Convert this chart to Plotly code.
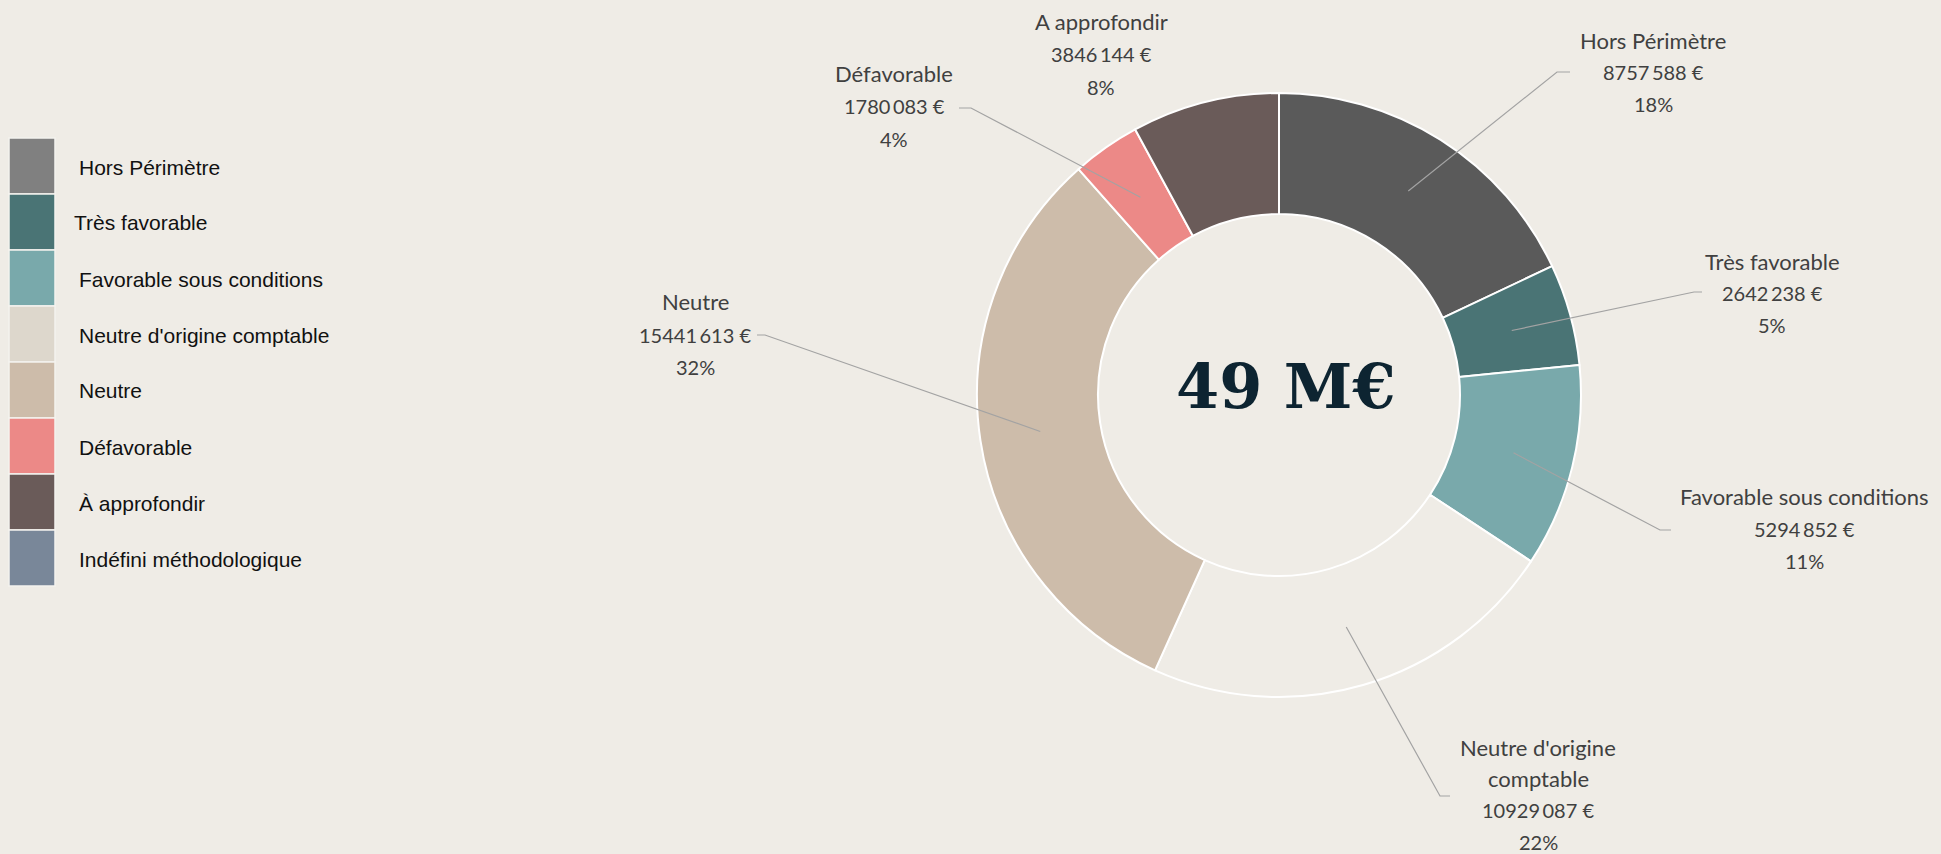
import math
import plotly.graph_objects as go

# ---------------- data ----------------
slice_labels = ["Hors Périmètre", "Très favorable", "Favorable sous conditions",
                "Neutre d'origine comptable", "Neutre", "Défavorable", "A approfondir"]
slice_values = [8757588, 2642238, 5294852, 10929087, 15441613, 1780083, 3846144]
slice_colors = ["#5A5A5A", "#4A7475", "#79A9AB", "#EFECE6", "#CDBCAA", "#EC8987", "#6A5B59"]

legend_labels = ["Hors Périmètre", "Très favorable", "Favorable sous conditions",
                 "Neutre d'origine comptable", "Neutre", "Défavorable", "À approfondir",
                 "Indéfini méthodologique"]
legend_colors = ["#808080", "#4A7475", "#79A9AB", "#DDD7CC", "#CDBCAA", "#EC8987",
                 "#6A5B59", "#798799"]

center_text = "49 M€"

# ---------------- layout helpers (pixels) ----------------
W, H = 1941, 854
BG = "#EFECE6"
CX, CY, R_OUT, R_IN = 1279, 395, 302, 181


def px(x):
    return x / W


def py(y):
    return 1 - y / H


total = sum(slice_values)


def fmt_eur(v):
    return f"{v // 1000}\u2009{v % 1000:03d}\u00a0€"


label_lines = [
    [slice_labels[0]],
    [slice_labels[1]],
    [slice_labels[2]],
    ["Neutre d'origine", "comptable"],
    [slice_labels[4]],
    [slice_labels[5]],
    [slice_labels[6]],
]
# (center x, first line y, line step, elbow (x,y), end x) ; None = no leader
label_pos = [
    (1653, 40, 32, (1557, 72), 1570),
    (1772, 261, 32, (1694, 292), 1702),
    (1804, 496, 32.5, (1660, 530), 1671),
    (1538, 747, 31.5, (1440, 796), 1450),
    (695, 302, 32.5, (765, 335), 757),
    (894, 74, 32.5, (971, 108), 959),
    (1101, 21, 33, None, None),
]

fig = go.Figure()
fig.add_trace(go.Pie(
    labels=slice_labels, values=slice_values, sort=False, direction="clockwise",
    rotation=0, hole=R_IN / R_OUT, textinfo="none", hoverinfo="label+value+percent",
    marker=dict(colors=slice_colors, line=dict(color="#FFFFFF", width=2)),
    domain=dict(x=[px(CX - R_OUT), px(CX + R_OUT)], y=[py(CY + R_OUT), py(CY - R_OUT)]),
    showlegend=False,
))

shapes = []
annotations = []

cum = 0
NAME_FONT = dict(family="Lato, 'Open Sans', sans-serif", size=22, color="#404040")
NUM_FONT = dict(family="Lato, 'Open Sans', sans-serif", size=20, color="#404040")
for i, v in enumerate(slice_values):
    mid = (cum + v / 2) / total
    cum += v
    ang = 2 * math.pi * mid
    rm = (R_OUT + R_IN) / 2
    sx, sy = CX + rm * math.sin(ang), CY - rm * math.cos(ang)
    lx, ly0, step, elbow, endx = label_pos[i]
    if elbow is not None:
        path = (f"M {px(sx)} {py(sy)} L {px(elbow[0])} {py(elbow[1])} "
                f"L {px(endx)} {py(elbow[1])}")
        shapes.append(dict(type="path", xref="paper", yref="paper", path=path,
                           line=dict(color="#A3A3A3", width=1.2), layer="above"))
    names = label_lines[i]
    nums = [fmt_eur(v), f"{round(v / total * 100)}%"]
    for k, t in enumerate(names + nums):
        annotations.append(dict(x=px(lx), y=py(ly0 + k * step), xref="paper", yref="paper",
                                text=t, showarrow=False, xanchor="center", yanchor="middle",
                                font=NAME_FONT if k < len(names) else NUM_FONT))

annotations.append(dict(x=px(1286), y=py(386), xref="paper", yref="paper", text=center_text,
                        showarrow=False, xanchor="center", yanchor="middle",
                        font=dict(family="DejaVu Serif", size=62, color="#0D2431", weight=700)))

LEG_X0, LEG_X1, LEG_Y0, LEG_STEP = 9, 55, 138, 56
for i, (lab, col) in enumerate(zip(legend_labels, legend_colors)):
    y0 = LEG_Y0 + i * LEG_STEP
    shapes.append(dict(type="rect", xref="paper", yref="paper",
                       x0=px(LEG_X0), x1=px(LEG_X1), y0=py(y0), y1=py(y0 + LEG_STEP),
                       fillcolor=col, line=dict(color="#F4F2EE", width=1.5), layer="above"))
    annotations.append(dict(x=px(72 if lab == "Très favorable" else 77),
                            y=py(y0 + LEG_STEP / 2 + 1), xref="paper", yref="paper",
                            text=lab, showarrow=False, xanchor="left", yanchor="middle",
                            font=dict(family="Liberation Sans, Arial, sans-serif", size=21,
                                      color="#111111")))

fig.update_layout(
    width=W, height=H, margin=dict(l=0, r=0, t=0, b=0),
    paper_bgcolor=BG, plot_bgcolor=BG,
    shapes=shapes, annotations=annotations, showlegend=False,
)

fig.write_html("out.html", config={"displayModeBar": False},
               post_script="document.body.style.margin='0';")
